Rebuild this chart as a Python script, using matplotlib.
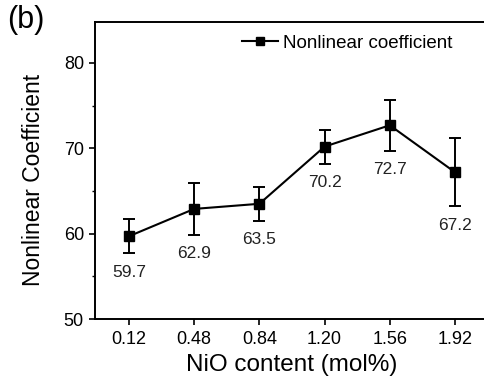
import matplotlib
matplotlib.use("Agg")
import matplotlib.pyplot as plt
from matplotlib.lines import Line2D
from matplotlib.ticker import MultipleLocator

# data
nio_content = [0.12, 0.48, 0.84, 1.20, 1.56, 1.92]
tick_labels = ["0.12", "0.48", "0.84", "1.20", "1.56", "1.92"]
coefficient = [59.7, 62.9, 63.5, 70.2, 72.7, 67.2]
coef_err = [2.0, 3.0, 2.0, 2.0, 3.0, 4.0]

plt.rcParams["font.family"] = ["Liberation Sans", "DejaVu Sans"]

fig = plt.figure(figsize=(4.85, 3.85), dpi=100)
ax = fig.add_axes([95 / 485, 66 / 385, 394 / 485, 297 / 385])

ax.errorbar(
    nio_content,
    coefficient,
    yerr=coef_err,
    color="black",
    linewidth=1.5,
    elinewidth=1.4,
    capsize=4,
    capthick=1.4,
    marker="s",
    markersize=6.5,
)

for x, y, e in zip(nio_content, coefficient, coef_err):
    ax.text(x, y - e - 2.2, f"{y:.1f}", ha="center", va="center",
            fontsize=12.5, color="#222222")

ax.set_xlim(-0.068, 2.108)
ax.set_ylim(50, 84.8)
ax.set_xticks(nio_content)
ax.set_xticklabels(tick_labels)
ax.yaxis.set_major_locator(MultipleLocator(10))
ax.yaxis.set_minor_locator(MultipleLocator(5))
ax.tick_params(axis="both", which="major", direction="out", length=4,
               width=1.2, labelsize=13, pad=4)
ax.tick_params(axis="y", which="minor", direction="out", length=2.5, width=1.0)
ax.tick_params(axis="x", pad=5)
for side in ("left", "bottom", "top"):
    ax.spines[side].set_linewidth(1.4)
ax.spines["right"].set_visible(False)

ax.set_xlabel("NiO content (mol%)", fontsize=17.5, labelpad=4)
ax.set_ylabel("Nonlinear Coefficient", fontsize=16.5)
ax.yaxis.set_label_coords(-0.127, 0.468)

handle = Line2D([], [], color="black", linewidth=1.5, marker="s", markersize=6)
ax.legend(
    [handle],
    ["Nonlinear coefficient"],
    frameon=False,
    fontsize=13.5,
    loc="center left",
    bbox_to_anchor=(242 / 485, (385 - 43) / 385),
    bbox_transform=fig.transFigure,
    borderaxespad=0,
    borderpad=0,
    handlelength=1.9,
    handletextpad=0.3,
)

fig.text(0.015, 0.948, "(b)", fontsize=22, va="center", ha="left")

fig.savefig("out.png", dpi=100)
